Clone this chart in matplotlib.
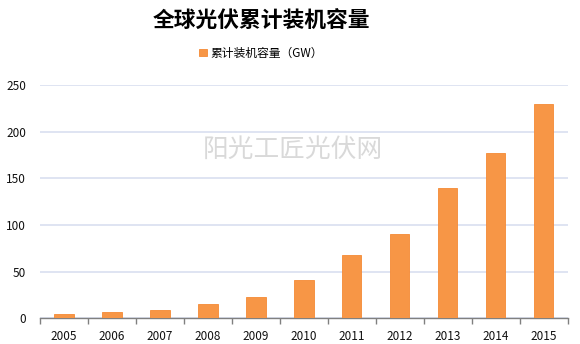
import matplotlib
matplotlib.use('Agg')
import matplotlib.pyplot as plt
import numpy as np

plt.rcParams['font.family'] = ['Noto Sans CJK SC', 'DejaVu Sans']

years = ['2005', '2006', '2007', '2008', '2009', '2010',
         '2011', '2012', '2013', '2014', '2015']
capacity = [5, 7, 9, 15, 23, 41, 68, 90, 140, 177, 230]

fig = plt.figure(figsize=(5.8, 3.44), dpi=100)
ax = fig.add_axes([0.069, 0.075, 0.91, 0.678])

x = np.arange(len(years))
ax.bar(x, capacity, width=0.4, color='#f79646', edgecolor='#f58a35',
       linewidth=0.6, zorder=3, label='累计装机容量（GW）')

ax.set_xlim(-0.5, len(years) - 0.5)
ax.set_ylim(0, 250)
ax.set_yticks(range(0, 251, 50))
ax.set_xticks(x)
ax.set_xticklabels(years)
ax.set_xticks(np.arange(-0.5, len(years), 1), minor=True)
ax.tick_params(axis='x', which='major', length=0, pad=8.5, labelsize=8.5, colors='#111111')
ax.tick_params(axis='x', which='minor', length=4, color='#808080', width=1)
ax.tick_params(axis='y', length=0, pad=10, labelsize=8.5, colors='#111111')
ax.grid(axis='y', color='#d9dff0', linewidth=1.2, zorder=0)

for s in ['top', 'right', 'left']:
    ax.spines[s].set_visible(False)
ax.spines['bottom'].set_color('#808080')
ax.spines['bottom'].set_linewidth(1)

fig.text(0.45, 0.937, '全球光伏累计装机容量', ha='center', va='center',
         fontsize=15.7, fontweight='bold', color='#000000')
ax.legend(loc='center', bbox_to_anchor=(0.45 / 0.91 - 0.069 / 0.91, (0.846 - 0.075) / 0.678),
          frameon=False, fontsize=8.5, handlelength=0.6, handleheight=0.6,
          handletextpad=0.3)

fig.text(0.505, 0.564, '阳光工匠光伏网', ha='center', va='center',
         fontsize=18.5, color='#d9d9d9')

fig.savefig('out.png', dpi=100)
